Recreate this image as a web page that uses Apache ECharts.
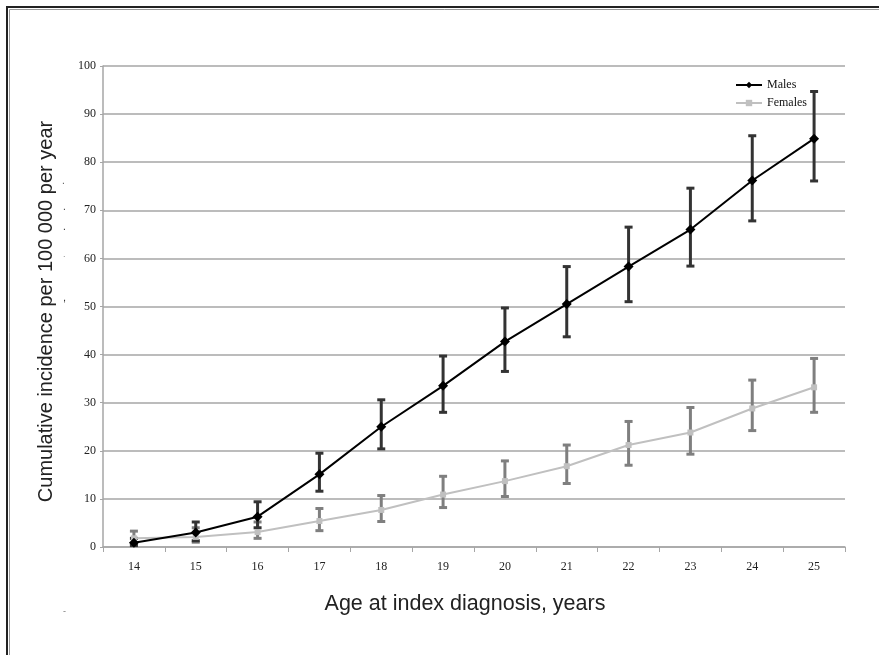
<!DOCTYPE html>
<html>
<head>
<meta charset="utf-8">
<script src="https://cdn.jsdelivr.net/npm/echarts@6/dist/echarts.min.js"></script>
<style>html,body{margin:0;padding:0;background:#fff}#c{width:879px;height:655px}</style>
</head>
<body>
<div id="c"></div>
<script>
var ages = ['14','15','16','17','18','19','20','21','22','23','24','25'];
var malesMean = [0.9, 3.0, 6.3, 15.1, 25.0, 33.5, 42.7, 50.5, 58.3, 66.0, 76.2, 84.9];
var malesLow = [0.3, 1.3, 4.0, 11.6, 20.4, 28.0, 36.5, 43.7, 51.0, 58.4, 67.8, 76.1];
var malesHigh = [1.8, 5.2, 9.4, 19.5, 30.6, 39.7, 49.7, 58.3, 66.5, 74.6, 85.5, 94.7];
var femalesMean = [1.8, 2.1, 3.1, 5.4, 7.7, 10.9, 13.7, 16.8, 21.2, 23.8, 28.8, 33.2];
var femalesLow = [0.6, 1.0, 1.8, 3.4, 5.3, 8.2, 10.5, 13.2, 17.0, 19.3, 24.2, 28.0];
var femalesHigh = [3.3, 4.0, 5.2, 8.0, 10.7, 14.7, 17.9, 21.2, 26.1, 29.0, 34.7, 39.2];
var yTicks = {min: 0, max: 100, interval: 10};

function errData(lo, hi) {
  return ages.map(function (a, i) { return [i, lo[i], hi[i]]; });
}
function errSeries(name, lo, hi, color) {
  return {
    type: 'custom',
    name: name + ' error',
    silent: true,
    z: 2,
    data: errData(lo, hi),
    renderItem: function (params, api) {
      var i = api.value(0);
      var p1 = api.coord([i, api.value(1)]);
      var p2 = api.coord([i, api.value(2)]);
      var hw = 4;
      var st = {stroke: color, lineWidth: 3};
      return {
        type: 'group',
        children: [
          {type: 'line', shape: {x1: p1[0], y1: p1[1], x2: p2[0], y2: p2[1]}, style: st},
          {type: 'line', shape: {x1: p1[0] - hw, y1: p1[1], x2: p1[0] + hw, y2: p1[1]}, style: st},
          {type: 'line', shape: {x1: p2[0] - hw, y1: p2[1], x2: p2[0] + hw, y2: p2[1]}, style: st}
        ]
      };
    }
  };
}

var chart = echarts.init(document.getElementById('c'));
chart.setOption({
  animation: false,
  backgroundColor: '#fff',
  grid: {left: 103, top: 66, right: 34, bottom: 108, containLabel: false},
  legend: {
    orient: 'vertical',
    left: 730,
    top: 74,
    itemGap: 6,
    itemWidth: 26,
    itemHeight: 8,
    textStyle: {fontFamily: 'Liberation Serif', fontSize: 12, color: '#111'},
    data: ['Males', 'Females']
  },
  xAxis: {
    type: 'category',
    data: ages,
    boundaryGap: true,
    name: 'Age at index diagnosis, years',
    nameLocation: 'middle',
    nameGap: 46,
    nameTextStyle: {fontFamily: 'Liberation Sans', fontSize: 21.5, color: '#222', padding: [0, 18, 0, 0]},
    axisLine: {lineStyle: {color: '#a6a6a6', width: 1.5}},
    axisTick: {show: true, length: 5, interval: 0, lineStyle: {color: '#a6a6a6'}},
    axisLabel: {fontFamily: 'Liberation Serif', fontSize: 12, color: '#222', margin: 14, interval: 0},
    splitLine: {show: false}
  },
  yAxis: {
    type: 'value',
    min: yTicks.min,
    max: yTicks.max,
    interval: yTicks.interval,
    name: 'Cumulative incidence per 100 000 per year',
    nameLocation: 'middle',
    nameGap: 47,
    nameTextStyle: {fontFamily: 'Liberation Sans', fontSize: 20, color: '#222', padding: [0, 10, 0, 0]},
    axisLine: {show: true, lineStyle: {color: '#a6a6a6', width: 1.5}},
    axisTick: {show: true, length: 3, lineStyle: {color: '#a6a6a6'}},
    axisLabel: {fontFamily: 'Liberation Serif', fontSize: 12, color: '#222', margin: 7},
    splitLine: {show: true, lineStyle: {color: '#a6a6a6', width: 1.5}}
  },
  series: [
    errSeries('Females', femalesLow, femalesHigh, '#7f7f7f'),
    errSeries('Males', malesLow, malesHigh, '#333333'),
    {
      name: 'Females',
      type: 'line',
      data: femalesMean,
      z: 3,
      symbol: 'rect',
      symbolSize: 6,
      itemStyle: {color: '#c0c0c0'},
      lineStyle: {color: '#c0c0c0', width: 2}
    },
    {
      name: 'Males',
      type: 'line',
      data: malesMean,
      z: 4,
      symbol: 'diamond',
      symbolSize: 10,
      itemStyle: {color: '#000'},
      lineStyle: {color: '#000', width: 2}
    }
  ],
  graphic: [
    {type: 'rect', shape: {x: 7, y: 7, width: 900, height: 700}, style: {fill: 'none', stroke: '#222', lineWidth: 2}, silent: true},
    {type: 'rect', shape: {x: 9.5, y: 9.5, width: 900, height: 700}, style: {fill: 'none', stroke: '#999', lineWidth: 1}, silent: true},
    {type: 'text', left: 62, top: 176, style: {text: '.', fill: '#555', font: '10px Liberation Sans'}},
    {type: 'text', left: 63, top: 202, style: {text: '.', fill: '#333', font: '10px Liberation Sans'}},
    {type: 'text', left: 63, top: 222, style: {text: '.', fill: '#222', font: '10px Liberation Sans'}},
    {type: 'text', left: 63, top: 250, style: {text: '.', fill: '#888', font: '9px Liberation Sans'}},
    {type: 'text', left: 63, top: 292, style: {text: ',', fill: '#333', font: '11px Liberation Sans'}},
    {type: 'text', left: 63, top: 607, style: {text: '-', fill: '#777', font: '9px Liberation Sans'}}
  ]
});
</script>
</body>
</html>
